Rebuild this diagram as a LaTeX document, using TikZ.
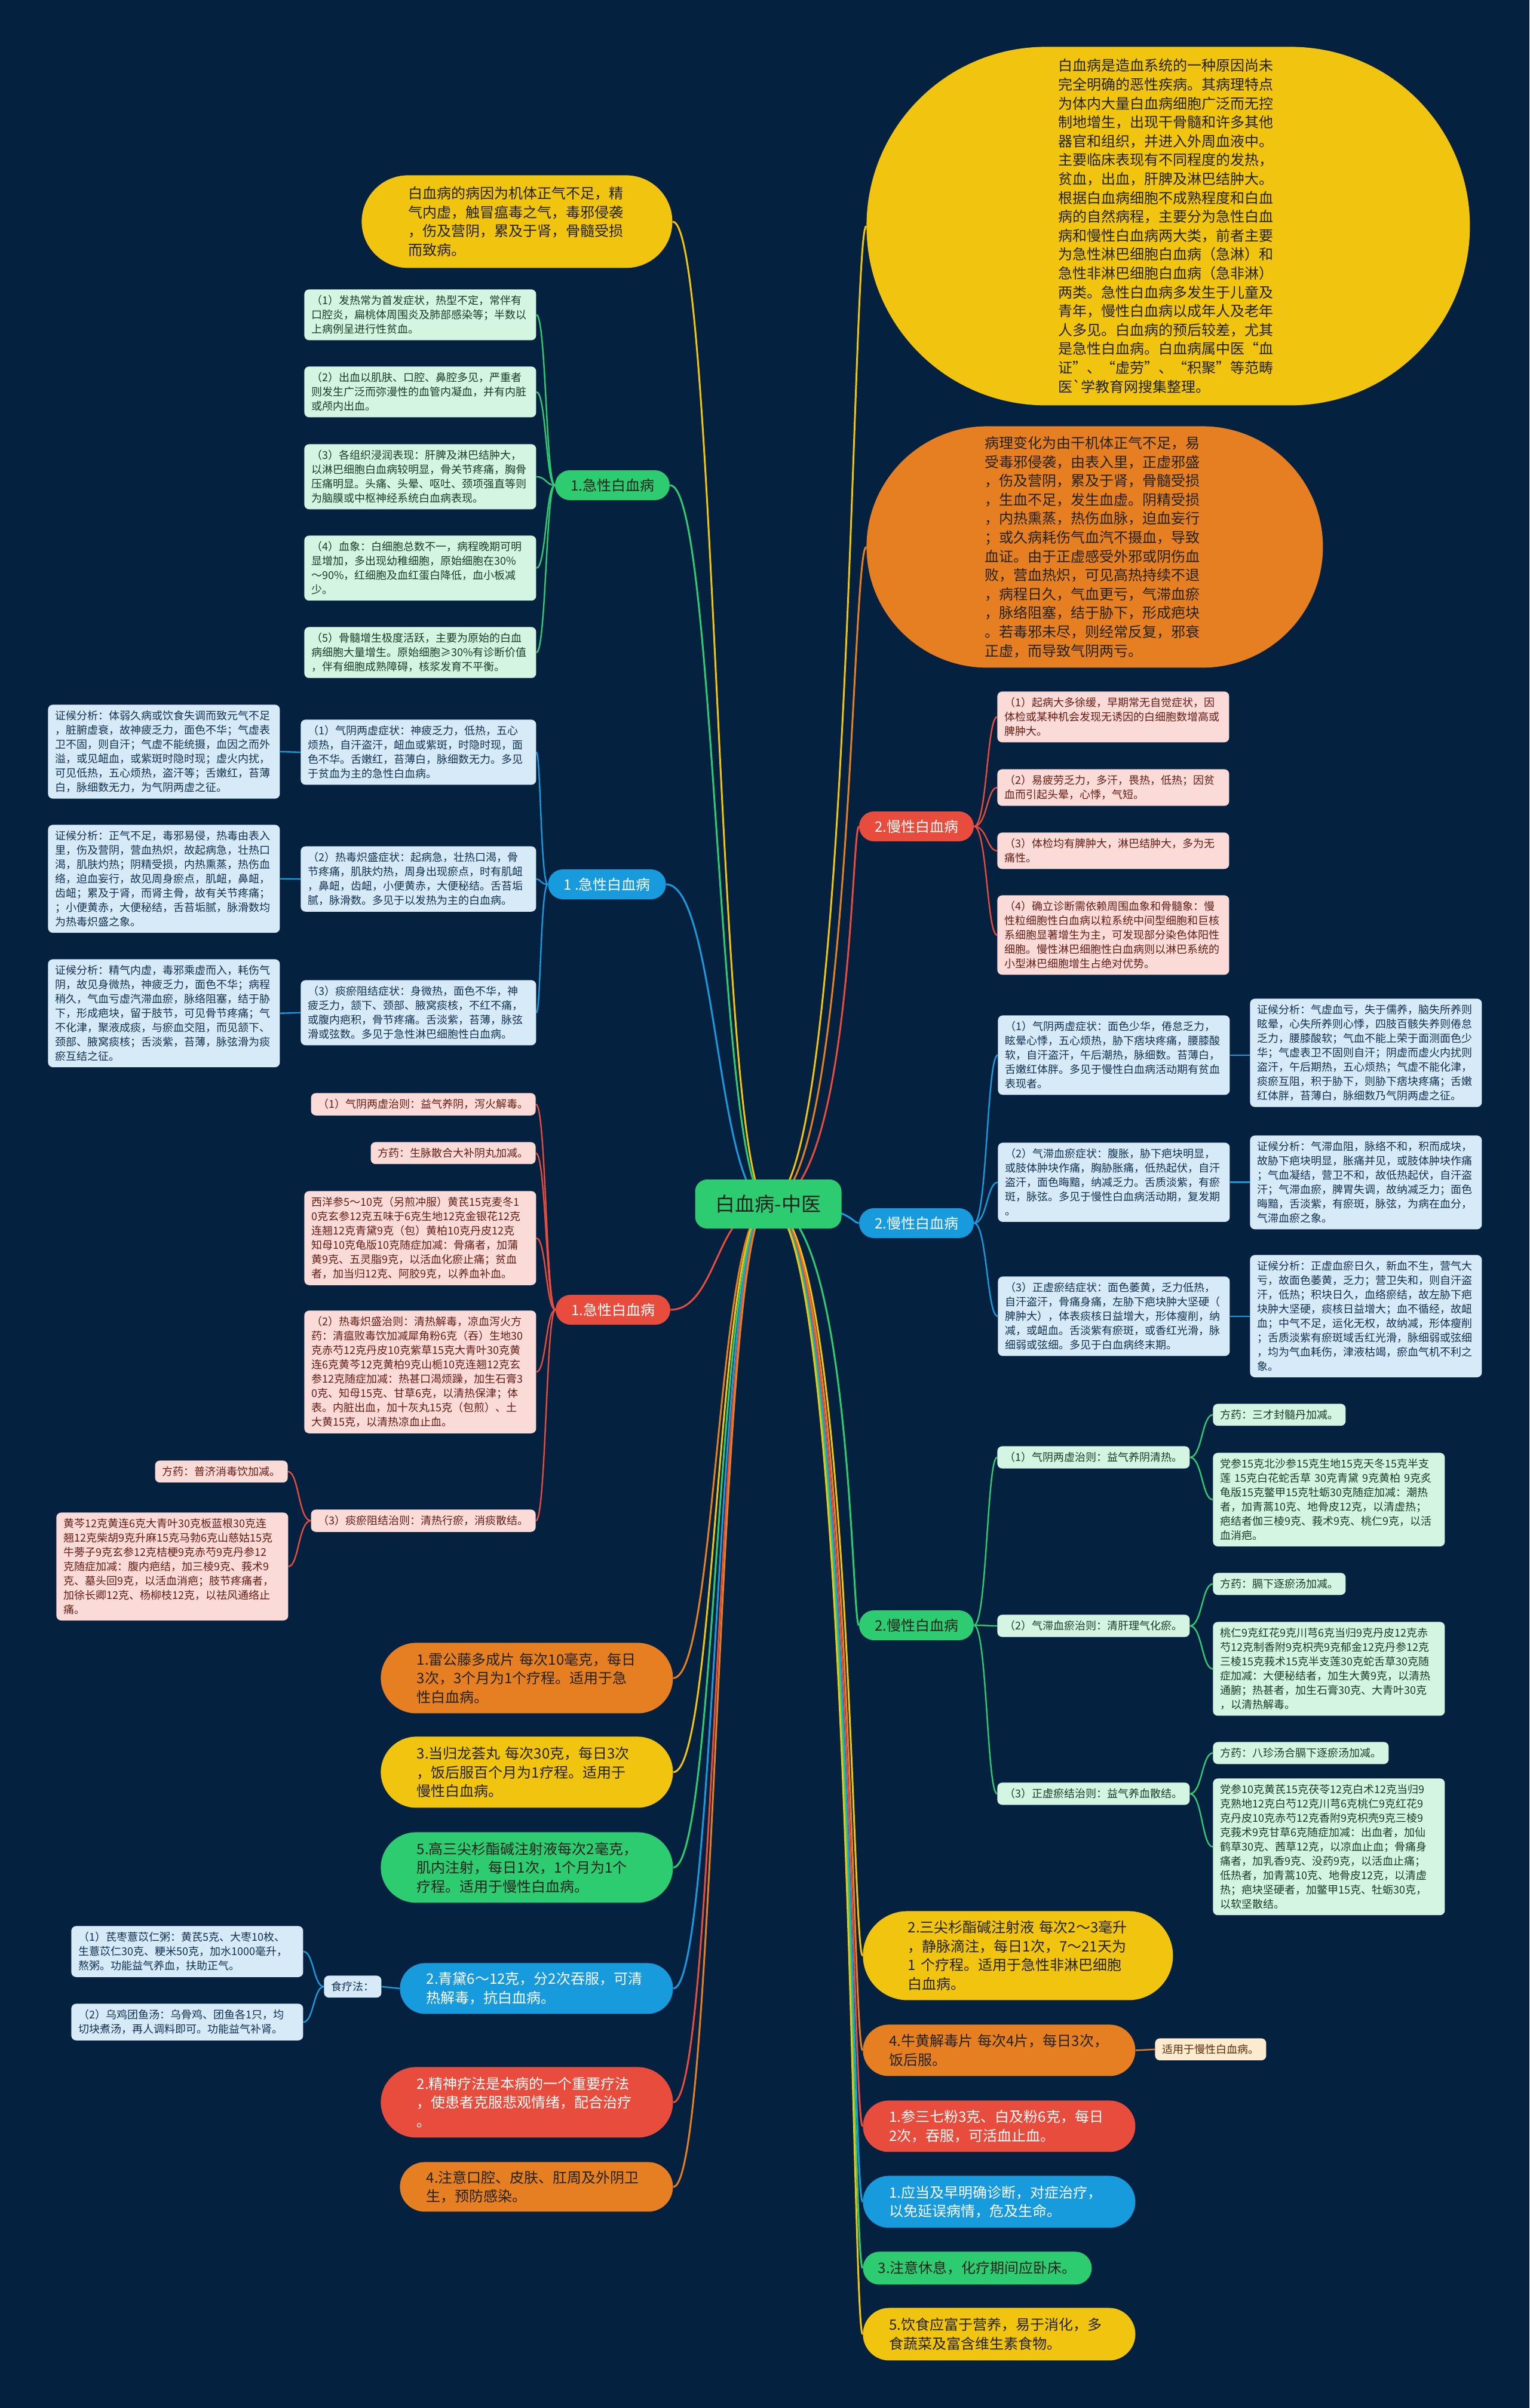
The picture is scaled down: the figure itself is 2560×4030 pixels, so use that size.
\documentclass[tikz,border=0pt]{standalone}
\usepackage{fontspec}
\setmainfont{Noto Sans CJK SC}
\usetikzlibrary{backgrounds}
\definecolor{bg}{RGB}{5,33,64}
\definecolor{cy}{RGB}{241,196,15}
\definecolor{co}{RGB}{230,126,34}
\definecolor{cg}{RGB}{46,204,113}
\definecolor{cr}{RGB}{231,76,60}
\definecolor{cb}{RGB}{24,155,221}
\definecolor{lg}{RGB}{213,245,227}
\definecolor{lb}{RGB}{214,234,248}
\definecolor{lp}{RGB}{250,219,216}
\definecolor{lo}{RGB}{253,235,208}
\definecolor{tg}{RGB}{25,60,40}
\definecolor{tb}{RGB}{20,50,80}
\definecolor{tr}{RGB}{100,30,22}
\definecolor{tor}{RGB}{90,45,10}
\definecolor{dk}{RGB}{35,35,30}
\newcommand\lnk[4]{\draw[#1] (#2) .. controls (#2 -| #4) and (#3 -| #4) .. (#3);}
\tikzset{
 bx/.style={rectangle, rounded corners=4pt, inner xsep=6pt, inner ysep=5pt, align=left, font=\fontsize{9pt}{12pt}\selectfont, anchor=north west},
 gbx/.style={bx, fill=lg, text=tg},
 bbx/.style={bx, fill=lb, text=tb},
 pbx/.style={bx, fill=lp, text=tr},
 obx/.style={bx, fill=lo, text=tor},
 tw/.style={text width=182pt},
 pill/.style={rectangle, rounded corners=12.5pt, minimum height=25pt, inner xsep=13pt, inner ysep=0pt, font=\fontsize{12pt}{14pt}\selectfont},
 stad/.style={rectangle, rounded corners=#1, align=left, font=\fontsize{12pt}{15.8pt}\selectfont, anchor=north west, inner sep=0pt},
 ln/.style={line width=1.5pt},
 sl/.style={line width=1.2pt},
}
\begin{document}
\begin{tikzpicture}[x=0.5pt,y=-0.5pt]
\useasboundingbox (0,0) rectangle (2560,4030);
\coordinate (xvL) at (1200,0);
\coordinate (xvR) at (1425,0);
\coordinate (xvGL) at (914,0);
\coordinate (xvBL) at (905,0);
\coordinate (xvRL) at (914,0);
\coordinate (xvT5) at (500,0);
\coordinate (xvF) at (525,0);
\coordinate (xvRR) at (1652,0);
\coordinate (xvGR) at (2012,0);

% root
\node[rectangle, rounded corners=10pt, fill=cg, text=dk, minimum width=122.5pt, minimum height=41pt, font=\fontsize{16.5pt}{18pt}\selectfont] (root) at (1286,2015) {白血病-中医};

% top right big nodes
\node[stad=150pt, fill=cy, text=dk, minimum width=505pt, minimum height=300pt, text width=184pt] (ytop) at (1450,78) {白血病是造血系统的一种原因尚未\\完全明确的恶性疾病。其病理特点\\为体内大量白血病细胞广泛而无控\\制地增生，出现干骨髓和许多其他\\器官和组织，并进入外周血液中。\\主要临床表现有不同程度的发热，\\贫血，出血，肝脾及淋巴结肿大。\\根据白血病细胞不成熟程度和白血\\病的自然病程，主要分为急性白血\\病和慢性白血病两大类，前者主要\\为急性淋巴细胞白血病（急淋）和\\急性非淋巴细胞白血病（急非淋）\\两类。急性白血病多发生于儿童及\\青年，慢性白血病以成年人及老年\\人多见。白血病的预后较差，尤其\\是急性白血病。白血病属中医“血\\证”、“虚劳”、“积聚”等范畴\\医\textasciigrave{}学教育网搜集整理。};
\node[stad=101pt, fill=co, text=dk, minimum width=382pt, minimum height=202pt, text width=184pt] (otop) at (1450,713) {病理变化为由干机体正气不足，易\\受毒邪侵袭，由表入里，正虚邪盛\\，伤及营阴，累及于肾，骨髓受损\\，生血不足，发生血虚。阴精受损\\，内热熏蒸，热伤血脉，迫血妄行\\；或久病耗伤气血汽不摄血，导致\\血证。由于正虚感受外邪或阴伤血\\败，营血热炽，可见高热持续不退\\，病程日久，气血更亏，气滞血瘀\\，脉络阻塞，结于胁下，形成疤块\\。若毒邪未尽，则经常反复，邪衰\\正虚，而导致气阴两亏。};

% cause
\node[stad=38.75pt, fill=cy, text=dk, minimum width=260pt, minimum height=77.5pt, text width=182pt] (cause) at (605,293) {白血病的病因为机体正气不足，精\\气内虚，触冒瘟毒之气，毒邪侵袭\\，伤及营阴，累及于肾，骨髓受损\\而致病。};

% pills
\node[pill, fill=cg, text=dk] (gpL) at (1025,812) {1.急性白血病};
\node[pill, fill=cb, text=white] (bpL) at (1016,1480) {1 .急性白血病};
\node[pill, fill=cr, text=white] (rpL) at (1026,2192) {1.急性白血病};
\node[pill, fill=cr, text=white] (rpR) at (1534,1383) {2.慢性白血病};
\node[pill, fill=cb, text=white] (bpR) at (1534,2047) {2.慢性白血病};
\node[pill, fill=cg, text=dk] (gpR) at (1534,2720) {2.慢性白血病};

% green left boxes
\node[gbx,tw] (gl1) at (509,484) {（1）发热常为首发症状，热型不定，常伴有\\口腔炎，扁桃体周围炎及肺部感染等；半数以\\上病例呈进行性贫血。};
\node[gbx,tw] (gl2) at (509,613) {（2）出血以肌肤、口腔、鼻腔多见，严重者\\则发生广泛而弥漫性的血管内凝血，并有内脏\\或颅内出血。};
\node[gbx,tw] (gl3) at (509,743) {（3）各组织浸润表现：肝脾及淋巴结肿大，\\以淋巴细胞白血病较明显，骨关节疼痛，胸骨\\压痛明显。头痛、头晕、呕吐、颈项强直等则\\为脑膜或中枢神经系统白血病表现。};
\node[gbx,tw] (gl4) at (509,896) {（4）血象：白细胞总数不一，病程晚期可明\\显增加，多出现幼稚细胞，原始细胞在30\%\\～90\%，红细胞及血红蛋白降低，血小板减\\少。};
\node[gbx,tw] (gl5) at (509,1049) {（5）骨髓增生极度活跃，主要为原始的白血\\病细胞大量增生。原始细胞≥30\%有诊断价值\\，伴有细胞成熟障碍，核浆发育不平衡。};

% blue left boxes
\node[bbx,text width=185pt] (bl1) at (503,1204) {（1）气阴两虚症状：神疲乏力，低热，五心\\烦热，自汗盗汗，衄血或紫斑，时隐时现，面\\色不华。舌嫩红，苔薄白，脉细数无力。多见\\于贫血为主的急性白血病。};
\node[bbx,text width=185pt] (bl2) at (503,1416) {（2）热毒炽盛症状：起病急，壮热口渴，骨\\节疼痛，肌肤灼热，周身出现瘀点，时有肌衄\\，鼻衄，齿衄，小便黄赤，大便秘结。舌苔垢\\腻，脉滑数。多见于以发热为主的白血病。};
\node[bbx,text width=185pt] (bl3) at (503,1640) {（3）痰瘀阻结症状：身微热，面色不华，神\\疲乏力，颔下、颈部、腋窝痰核，不红不痛，\\或腹内疤积，骨节疼痛。舌淡紫，苔薄，脉弦\\滑或弦数。多见于急性淋巴细胞性白血病。};
\node[bbx,tw] (al1) at (80,1179) {证候分析：体弱久病或饮食失调而致元气不足\\，脏腑虚衰，故神疲乏力，面色不华；气虚表\\卫不固，则自汗；气虚不能统摄，血因之而外\\溢，或见衄血，或紫斑时隐时现；虚火内扰，\\可见低热，五心烦热，盗汗等；舌嫩红，苔薄\\白，脉细数无力，为气阴两虚之征。};
\node[bbx,tw] (al2) at (80,1380) {证候分析：正气不足，毒邪易侵，热毒由表入\\里，伤及营阴，营血热炽，故起病急，壮热口\\渴，肌肤灼热；阴精受损，内热熏蒸，热伤血\\络，迫血妄行，故见周身瘀点，肌衄，鼻衄，\\齿衄；累及于肾，而肾主骨，故有关节疼痛；\\；小便黄赤，大便秘结，舌苔垢腻，脉滑数均\\为热毒炽盛之象。};
\node[bbx,tw] (al3) at (80,1605) {证候分析：精气内虚，毒邪乘虚而入，耗伤气\\阴，故见身微热，神疲乏力，面色不华；病程\\稍久，气血亏虚汽滞血瘀，脉络阻塞，结于胁\\下，形成疤块，留于肢节，可见骨节疼痛；气\\不化津，聚液成痰，与瘀血交阻，而见颔下、\\颈部、腋窝痰核；舌淡紫，苔薄，脉弦滑为痰\\瘀互结之征。};

% red left boxes
\node[pbx,anchor=north east] (t1) at (897,1829) {（1）气阴两虚治则：益气养阴，泻火解毒。};
\node[pbx,anchor=north east] (t2) at (897,1911) {方药：生脉散合大补阴丸加减。};
\node[pbx,tw] (t3) at (509,1993) {西洋参5～10克（另煎冲服）黄芪15克麦冬1\\0克玄参12克五味于6克生地12克金银花12克\\连翘12克青黛9克（包）黄柏10克丹皮12克\\知母10克龟版10克随症加减：骨痛者，加蒲\\黄9克、五灵脂9克，以活血化瘀止痛；贫血\\者，加当归12克、阿胶9克，以养血补血。};
\node[pbx,tw] (t4) at (509,2193) {（2）热毒炽盛治则：清热解毒，凉血泻火方\\药：清瘟败毒饮加减犀角粉6克（吞）生地30\\克赤芍12克丹皮10克紫草15克大青叶30克黄\\连6克黄芩12克黄柏9克山栀10克连翘12克玄\\参12克随症加减：热甚口渴烦躁，加生石膏3\\0克、知母15克、甘草6克，以清热保津；体\\表。内脏出血，加十灰丸15克（包煎）、土\\大黄15克，以清热凉血止血。};
\node[pbx,anchor=north east] (t5) at (897,2526) {（3）痰瘀阻结治则：清热行瘀，消痰散结。};
\node[pbx,anchor=north east] (p1) at (482,2444) {方药：普济消毒饮加减。};
\node[pbx,tw] (p2) at (94,2531) {黄芩12克黄连6克大青叶30克板蓝根30克连\\翘12克柴胡9克升麻15克马勃6克山慈姑15克\\牛蒡子9克玄参12克桔梗9克赤芍9克丹参12\\克随症加减：腹内疤结，加三棱9克、莪术9\\克、墓头回9克，以活血消疤；肢节疼痛者，\\加徐长卿12克、杨柳枝12克，以祛风通络止\\痛。};

% left bottom stadiums
\node[stad=29.5pt, fill=co, text=dk, minimum width=244.5pt, minimum height=59pt, text width=184pt] (o1) at (637,2749) {1.雷公藤多成片 每次10毫克，每日\\3次，3个月为1个疗程。适用于急\\性白血病。};
\node[stad=29.75pt, fill=cy, text=dk, minimum width=244.5pt, minimum height=59.5pt, text width=184pt] (y3) at (637,2906) {3.当归龙荟丸 每次30克，每日3次\\，饭后服百个月为1疗程。适用于\\慢性白血病。};
\node[stad=29.5pt, fill=cg, text=dk, minimum width=244.5pt, minimum height=59pt, text width=184pt] (g5) at (637,3066) {5.高三尖杉酯碱注射液每次2毫克，\\肌内注射，每日1次，1个月为1个\\疗程。适用于慢性白血病。};
\node[stad=21.25pt, fill=cb, text=white, minimum width=228.5pt, minimum height=42.5pt, text width=184pt] (b2) at (669,3285) {2.青黛6～12克，分2次吞服，可清\\热解毒，抗白血病。};
\node[stad=29.5pt, fill=cr, text=white, minimum width=244.5pt, minimum height=59pt, text width=184pt] (r2) at (637,3459) {2.精神疗法是本病的一个重要疗法\\，使患者克服悲观情绪，配合治疗\\。};
\node[stad=20.75pt, fill=co, text=dk, minimum width=228.5pt, minimum height=41.5pt, text width=184pt] (o4l) at (669,3618) {4.注意口腔、皮肤、肛周及外阴卫\\生，预防感染。};

% food
\node[bbx] (food) at (542,3306) {食疗法：};
\node[bbx,tw] (f1) at (119,3223) {（1）芪枣薏苡仁粥：黄芪5克、大枣10枚、\\生薏苡仁30克、粳米50克，加水1000毫升，\\熬粥。功能益气养血，扶助正气。};
\node[bbx,tw] (f2) at (119,3353) {（2）乌鸡团鱼汤：乌骨鸡、团鱼各1只，均\\切块煮汤，再人调料即可。功能益气补肾。};

% red right boxes
\node[pbx,tw] (rr1) at (1669,1157) {（1）起病大多徐缓，早期常无自觉症状，因\\体检或某种机会发现无诱因的白细胞数增高或\\脾肿大。};
\node[pbx,tw] (rr2) at (1669,1287) {（2）易疲劳乏力，多汗，畏热，低热；因贫\\血而引起头晕，心悸，气短。};
\node[pbx,tw] (rr3) at (1669,1393) {（3）体检均有脾肿大，淋巴结肿大，多为无\\痛性。};
\node[pbx,tw] (rr4) at (1669,1498) {（4）确立诊断需依赖周围血象和骨髓象：慢\\性粒细胞性白血病以粒系统中间型细胞和巨核\\系细胞显著增生为主，可发现部分染色体阳性\\细胞。慢性淋巴细胞性白血病则以淋巴系统的\\小型淋巴细胞增生占绝对优势。};

% blue right boxes
\node[bbx,tw] (bb1) at (1670,1699) {（1）气阴两虚症状：面色少华，倦怠乏力，\\眩晕心悸，五心烦热，胁下痞块疼痛，腰膝酸\\软，自汗盗汗，午后潮热，脉细数。苔薄白，\\舌嫩红体胖。多见于慢性白血病活动期有贫血\\表现者。};
\node[bbx,tw] (bb2) at (1670,1912) {（2）气滞血瘀症状：腹胀，胁下疤块明显，\\或肢体肿块作痛，胸胁胀痛，低热起伏，自汗\\盗汗，面色晦黯，纳减乏力。舌质淡紫，有瘀\\斑，脉弦。多见于慢性白血病活动期，复发期\\。};
\node[bbx,tw] (bb3) at (1670,2136) {（3）正虚瘀结症状：面色萎黄，乏力低热，\\自汗盗汗，骨痛身痛，左胁下疤块肿大坚硬（\\脾肿大），体表痰核日益增大，形体瘦削，纳\\减，或衄血。舌淡紫有瘀斑，或香红光滑，脉\\细弱或弦细。多见于白血病终末期。};
\node[bbx,tw] (cc1) at (2092,1671) {证候分析：气虚血亏，失于儒养，脑失所养则\\眩晕，心失所养则心悸，四肢百骸失养则倦怠\\乏力，腰膝酸软；气血不能上荣于面测面色少\\华；气虚表卫不固则自汗；阴虚而虚火内扰则\\盗汗，午后期热，五心烦热；气虚不能化津，\\痰瘀互阻，积于胁下，则胁下痞块疼痛；舌嫩\\红体胖，苔薄白，脉细数乃气阴两虚之征。};
\node[bbx,tw] (cc2) at (2092,1900) {证候分析：气滞血阻，脉络不和，积而成块，\\故胁下疤块明显，胀痛并见，或肢体肿块作痛\\；气血凝结，营卫不和，故低热起伏，自汗盗\\汗；气滞血瘀，脾胃失调，故纳减乏力；面色\\晦黯，舌淡紫，有瘀斑，脉弦，为病在血分，\\气滞血瘀之象。};
\node[bbx,tw] (cc3) at (2092,2100) {证候分析：正虚血瘀日久，新血不生，营气大\\亏，故面色萎黄，乏力；营卫失和，则自汗盗\\汗，低热；积块日久，血络瘀结，故左胁下疤\\块肿大坚硬，痰核日益增大；血不循经，故衄\\血；中气不足，运化无权，故纳减，形体瘦削\\；舌质淡紫有瘀斑域舌红光滑，脉细弱或弦细\\，均为气血耗伤，津液枯竭，瘀血气机不利之\\象。};

% green right boxes
\node[gbx] (gg1) at (1669,2420) {（1）气阴两虚治则：益气养阴清热。};
\node[gbx] (gg1a) at (2030,2349) {方药：三才封髓丹加减。};
\node[gbx,tw] (gg1b) at (2030,2431) {党参15克北沙参15克生地15克天冬15克半支\\莲 15克白花蛇舌草 30克青黛 9克黄柏 9克炙\\龟版15克鳖甲15克牡蛎30克随症加减：潮热\\者，加青蒿10克、地骨皮12克，以清虚热；\\疤结者伽三棱9克、莪术9克、桃仁9克，以活\\血消疤。};
\node[gbx] (gg2) at (1669,2702) {（2）气滞血瘀治则：清肝理气化瘀。};
\node[gbx] (gg2a) at (2030,2632) {方药：膈下逐瘀汤加减。};
\node[gbx,tw] (gg2b) at (2030,2714) {桃仁9克红花9克川芎6克当归9克丹皮12克赤\\芍12克制香附9克枳壳9克郁金12克丹参12克\\三棱15克莪术15克半支莲30克蛇舌草30克随\\症加减：大便秘结者，加生大黄9克，以清热\\通腑；热甚者，加生石膏30克、大青叶30克\\，以清热解毒。};
\node[gbx] (gg3) at (1669,2983) {（3）正虚瘀结治则：益气养血散结。};
\node[gbx] (gg3a) at (2030,2915) {方药：八珍汤合膈下逐瘀汤加减。};
\node[gbx,tw] (gg3b) at (2030,2976) {党参10克黄芪15克茯苓12克白术12克当归9\\克熟地12克白芍12克川芎6克桃仁9克红花9\\克丹皮10克赤芍12克香附9克枳壳9克三棱9\\克莪术9克甘草6克随症加减：出血者，加仙\\鹤草30克、茜草12克，以凉血止血；骨痛身\\痛者，加乳香9克、没药9克，以活血止痛；\\低热者，加青蒿10克、地骨皮12克，以清虚\\热；疤块坚硬者，加鳖甲15克、牡蛎30克，\\以软坚散结。};

% right bottom stadiums
\node[stad=37.25pt, fill=cy, text=dk, minimum width=259.5pt, minimum height=74.5pt, text width=184pt] (y2) at (1444,3198) {2.三尖杉酯碱注射液 每次2～3毫升\\，静脉滴注，每日1次，7～21天为\\1 个疗程。适用于急性非淋巴细胞\\白血病。};
\node[stad=21.5pt, fill=co, text=dk, minimum width=228pt, minimum height=43pt, text width=184pt] (o4) at (1444,3388) {4.牛黄解毒片 每次4片，每日3次，\\饭后服。};
\node[obx] (o4c) at (1933,3411) {适用于慢性白血病。};
\node[stad=21.5pt, fill=cr, text=white, minimum width=228pt, minimum height=43pt, text width=184pt] (r1b) at (1444,3515) {1.参三七粉3克、白及粉6克，每日\\2次，吞服，可活血止血。};
\node[stad=21.75pt, fill=cb, text=white, minimum width=228pt, minimum height=43.5pt, text width=184pt] (b1b) at (1444,3641) {1.应当及早明确诊断，对症治疗，\\以免延误病情，危及生命。};
\node[stad=13.75pt, fill=cg, text=dk, minimum width=191.5pt, minimum height=27.5pt] (g3x) at (1444,3768) {3.注意休息，化疗期间应卧床。};
\node[stad=22pt, fill=cy, text=dk, minimum width=228pt, minimum height=44pt, text width=184pt] (y5) at (1444,3862) {5.饮食应富于营养，易于消化，多\\食蔬菜及富含维生素食物。};

\begin{scope}[on background layer]
\fill[bg] (0,0) rectangle (2560,4030);
% root connectors left
\lnk{ln,draw=cy}{root.center}{cause.east}{xvL}
\lnk{ln,draw=cg}{root.center}{gpL.east}{xvL}
\lnk{ln,draw=cb}{root.center}{bpL.east}{xvL}
\lnk{ln,draw=cr}{root.center}{rpL.east}{xvL}
\lnk{ln,draw=co}{root.center}{o1.east}{xvL}
\lnk{ln,draw=cy}{root.center}{y3.east}{xvL}
\lnk{ln,draw=cg}{root.center}{g5.east}{xvL}
\lnk{ln,draw=cb}{root.center}{b2.east}{xvL}
\lnk{ln,draw=cr}{root.center}{r2.east}{xvL}
\lnk{ln,draw=co}{root.center}{o4l.east}{xvL}
% root connectors right
\lnk{ln,draw=cy}{root.center}{ytop.west}{xvR}
\lnk{ln,draw=co}{root.center}{otop.west}{xvR}
\lnk{ln,draw=cr}{root.center}{rpR.west}{xvR}
\lnk{ln,draw=cb}{root.center}{bpR.west}{xvR}
\lnk{ln,draw=cg}{root.center}{gpR.west}{xvR}
\lnk{ln,draw=cy}{root.center}{y2.west}{xvR}
\lnk{ln,draw=co}{root.center}{o4.west}{xvR}
\lnk{ln,draw=cr}{root.center}{r1b.west}{xvR}
\lnk{ln,draw=cb}{root.center}{b1b.west}{xvR}
\lnk{ln,draw=cg}{root.center}{g3x.west}{xvR}
\lnk{ln,draw=cy}{root.center}{y5.west}{xvR}
% second level left
\foreach \n in {gl1,gl2,gl3,gl4,gl5}{\lnk{sl,draw=cg}{gpL.west}{\n.east}{xvGL}}
\foreach \n in {bl1,bl2,bl3}{\lnk{sl,draw=cb}{bpL.west}{\n.east}{xvBL}}
\draw[sl,draw=cb] (al1.east) -- (bl1.west);
\draw[sl,draw=cb] (al2.east) -- (bl2.west);
\draw[sl,draw=cb] (al3.east) -- (bl3.west);
\foreach \n in {t1,t2,t3,t4,t5}{\lnk{sl,draw=cr}{rpL.west}{\n.east}{xvRL}}
\foreach \n in {p1,p2}{\lnk{sl,draw=cr}{t5.west}{\n.east}{xvT5}}
\draw[sl,draw=cb] (b2.west) -- (food.east);
\foreach \n in {f1,f2}{\lnk{sl,draw=cb}{food.west}{\n.east}{xvF}}
% second level right
\foreach \n in {rr1,rr2,rr3,rr4}{\lnk{sl,draw=cr}{rpR.east}{\n.west}{xvRR}}
\foreach \n in {bb1,bb2,bb3}{\lnk{sl,draw=cb}{bpR.east}{\n.west}{xvRR}}
\draw[sl,draw=cb] (bb1.east) -- (cc1.west |- bb1.east);
\draw[sl,draw=cb] (bb2.east) -- (cc2.west |- bb2.east);
\draw[sl,draw=cb] (bb3.east) -- (cc3.west |- bb3.east);
\foreach \n in {gg1,gg2,gg3}{\lnk{sl,draw=cg}{gpR.east}{\n.west}{xvRR}}
\foreach \n in {gg1a,gg1b}{\lnk{sl,draw=cg}{gg1.east}{\n.west}{xvGR}}
\foreach \n in {gg2a,gg2b}{\lnk{sl,draw=cg}{gg2.east}{\n.west}{xvGR}}
\foreach \n in {gg3a,gg3b}{\lnk{sl,draw=cg}{gg3.east}{\n.west}{xvGR}}
\draw[sl,draw=co] (o4.east) -- (o4c.west);
\end{scope}
\end{tikzpicture}
\end{document}
